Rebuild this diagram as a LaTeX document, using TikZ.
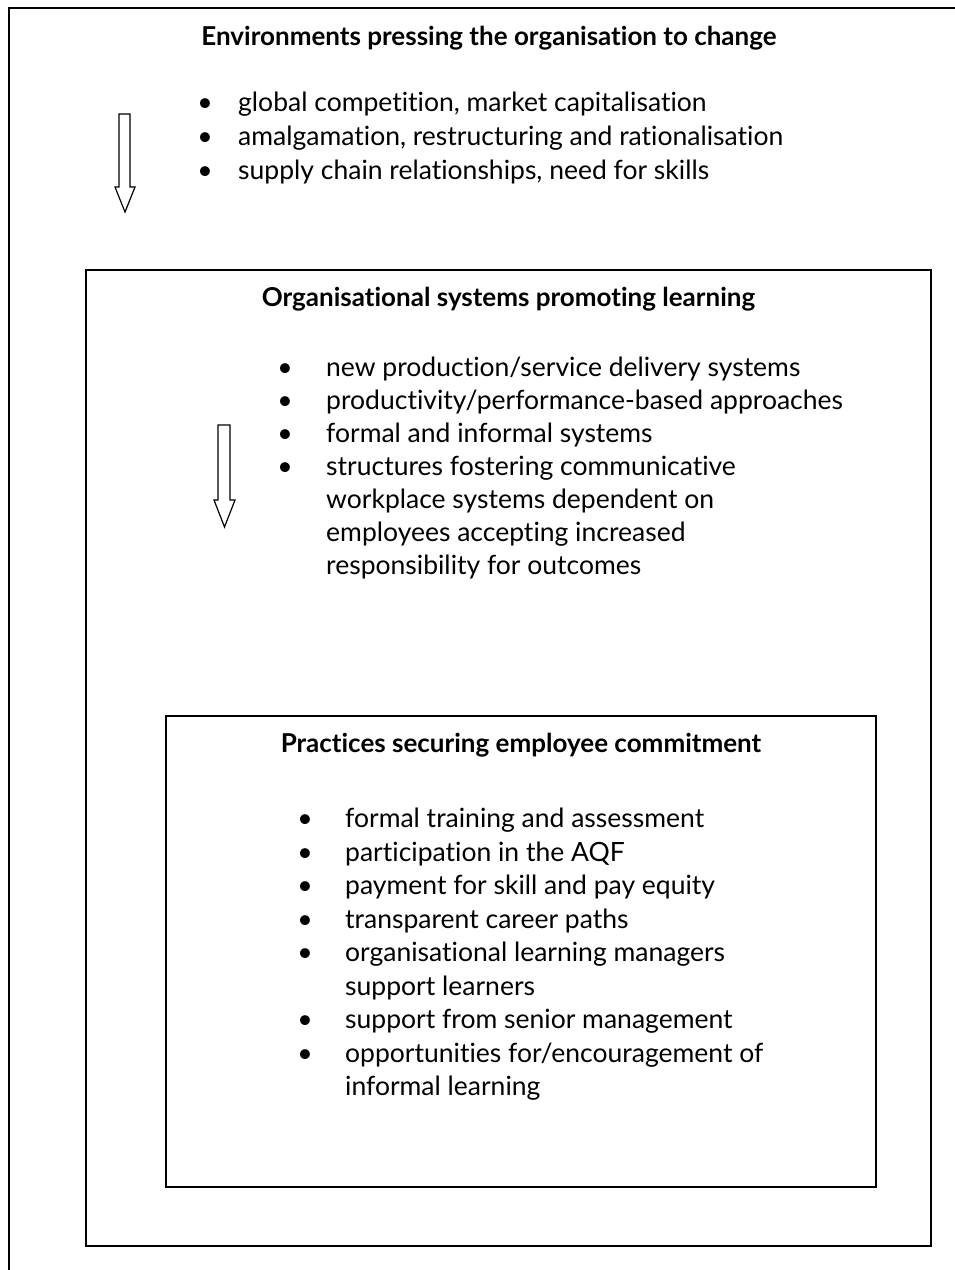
\documentclass[tikz,border=0pt]{standalone}
\usepackage{fontspec}
\setmainfont[Ligatures=NoCommon]{Lato}
\begin{document}
\begin{tikzpicture}[x=1pt,y=-1pt,
  frame/.style={draw=black,line width=1.6pt},
  ttl/.style={font=\fontsize{26}{31}\selectfont\bfseries,anchor=mid,inner sep=0pt,yshift=-6pt},
  itm/.style={font=\fontsize{26.5}{31}\selectfont,anchor=mid west,inner sep=0pt,yshift=-6pt},
  bul/.style={font=\fontsize{26.5}{31}\selectfont,anchor=mid,inner sep=0pt,yshift=-6pt},
  blockarrow/.style={draw=black,line width=1.2pt,fill=white,line join=miter}]
\useasboundingbox (0,0) rectangle (955,1270);
% frames
\draw[frame] (9,1270) -- (9,8) -- (955,8);
\draw[frame] (86,270) rectangle (931,1246);
\draw[frame] (166,716) rectangle (876,1187);
% arrows
\draw[blockarrow] (119,114) -- (130,114) -- (130,187) -- (135,187) -- (125,212) -- (115,187) -- (119,187) -- cycle;
\draw[blockarrow] (218,425) -- (230,425) -- (230,500) -- (235,500) -- (224.5,527) -- (214,500) -- (218,500) -- cycle;
% section 1
\node[ttl] (t1) at (489,37) {Environments pressing the organisation to change};
\node[bul] (b11) at (205,103) {•};
\node[itm] (i11) at (238,103) {global competition, market capitalisation};
\node[bul] (b12) at (205,137) {•};
\node[itm] (i12) at (238,137) {amalgamation, restructuring and rationalisation};
\node[bul] (b13) at (205,171) {•};
\node[itm] (i13) at (238,171) {supply chain relationships, need for skills};
% section 2
\node[ttl] (t2) at (508.5,298) {Organisational systems promoting learning};
\node[bul] (b21) at (285,368) {•};
\node[itm] (i21) at (326,368) {new production/service delivery systems};
\node[bul] (b22) at (285,401) {•};
\node[itm] (i22) at (326,401) {productivity/performance-based approaches};
\node[bul] (b23) at (285,434) {•};
\node[itm] (i23) at (326,434) {formal and informal systems};
\node[bul] (b24) at (285,467) {•};
\node[itm] (i24) at (326,467) {structures fostering communicative};
\node[itm] (i25) at (326,500) {workplace systems dependent on};
\node[itm] (i26) at (326,533) {employees accepting increased};
\node[itm] (i27) at (326,566) {responsibility for outcomes};
% section 3
\node[ttl] (t3) at (521,744) {Practices securing employee commitment};
\node[bul] (b31) at (305,819) {•};
\node[itm] (i31) at (345,819) {formal training and assessment};
\node[bul] (b32) at (305,852.5) {•};
\node[itm] (i32) at (345,852.5) {participation in the AQF};
\node[bul] (b33) at (305,886) {•};
\node[itm] (i33) at (345,886) {payment for skill and pay equity};
\node[bul] (b34) at (305,919.5) {•};
\node[itm] (i34) at (345,919.5) {transparent career paths};
\node[bul] (b35) at (305,953) {•};
\node[itm] (i35) at (345,953) {organisational learning managers};
\node[itm] (i36) at (345,986.5) {support learners};
\node[bul] (b37) at (305,1020) {•};
\node[itm] (i37) at (345,1020) {support from senior management};
\node[bul] (b38) at (305,1053.5) {•};
\node[itm] (i38) at (345,1053.5) {opportunities for/encouragement of};
\node[itm] (i39) at (345,1087) {informal learning};
\end{tikzpicture}
\end{document}
